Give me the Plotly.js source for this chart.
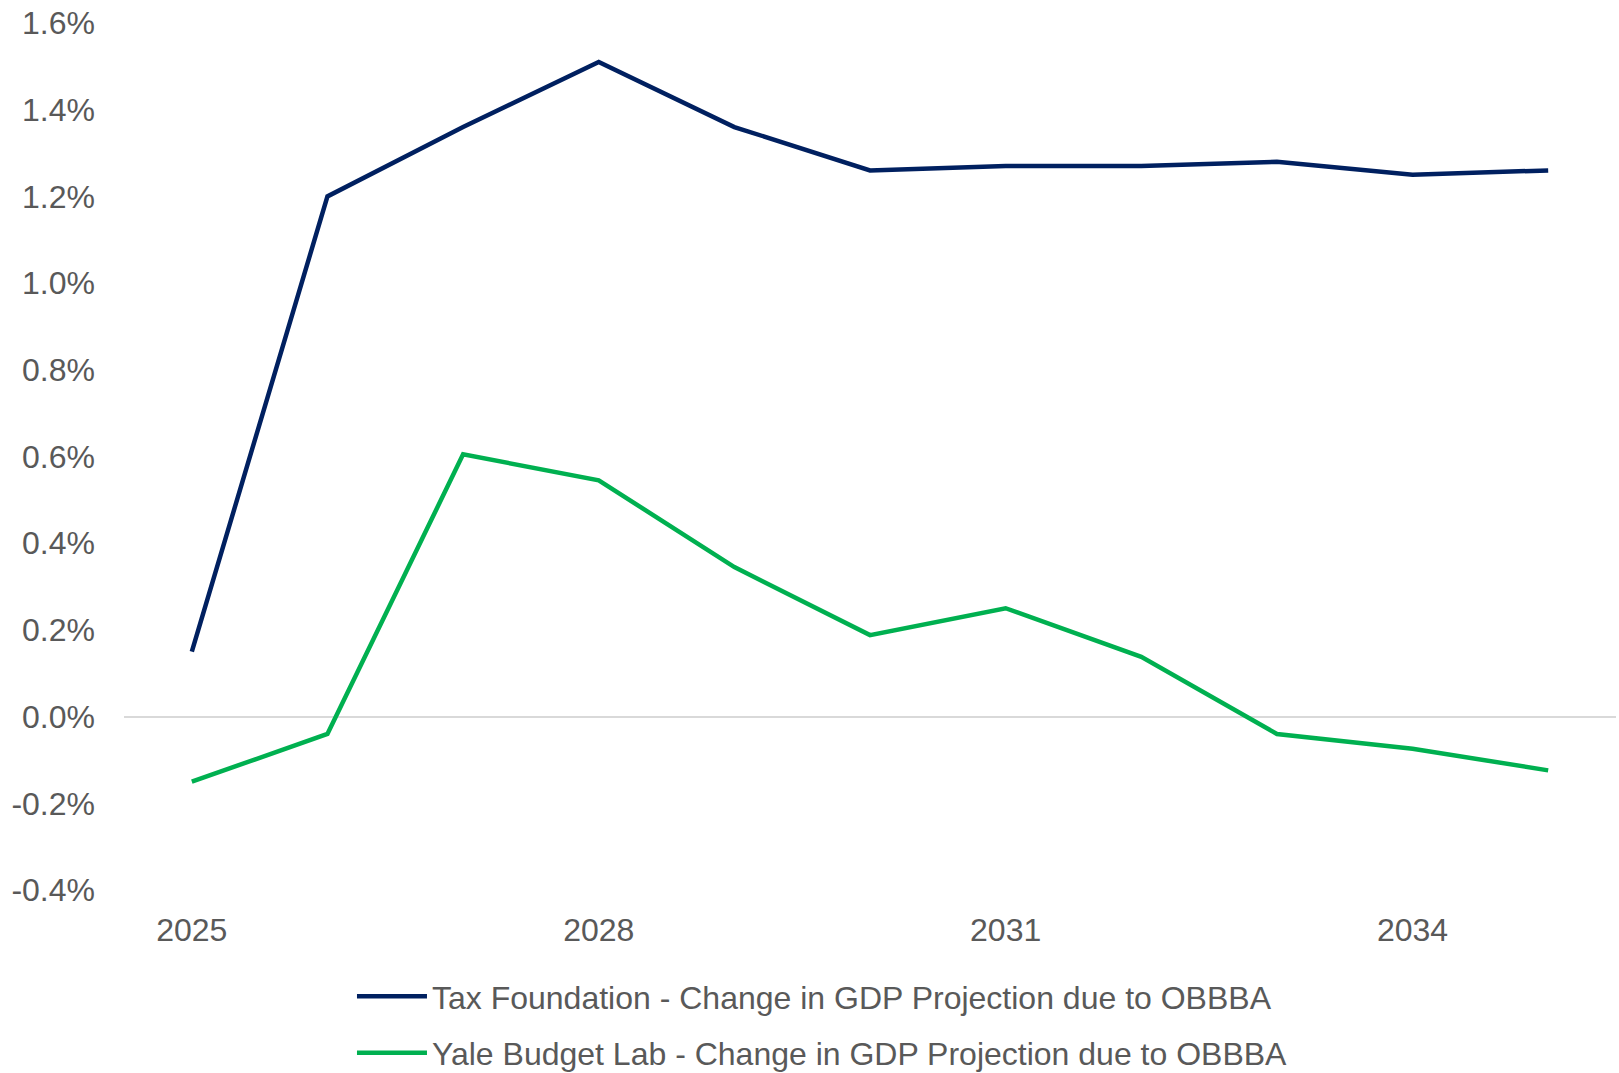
<!DOCTYPE html>
<html>
<head>
<meta charset="utf-8">
<script src="https://cdn.plot.ly/plotly-3.0.1.min.js"></script>
<style>html,body{margin:0;padding:0;background:#fff;}#chart{width:1619px;height:1073px;}</style>
</head>
<body>
<div id="chart"></div>
<script>
const years = [2025, 2026, 2027, 2028, 2029, 2030, 2031, 2032, 2033, 2034, 2035];
const taxFoundation = [0.15, 1.20, 1.36, 1.51, 1.36, 1.26, 1.27, 1.27, 1.28, 1.25, 1.26];
const yaleBudgetLab = [-0.15, -0.04, 0.605, 0.545, 0.345, 0.188, 0.25, 0.138, -0.04, -0.074, -0.124];
const seriesNames = [
  "Tax Foundation - Change in GDP Projection due to OBBBA",
  "Yale Budget Lab - Change in GDP Projection due to OBBBA"
];
const xTickVals = [2025, 2028, 2031, 2034];
const yTickVals = [-0.4, -0.2, 0, 0.2, 0.4, 0.6, 0.8, 1.0, 1.2, 1.4, 1.6];
const yTickText = yTickVals.map(v => v.toFixed(1) + "%");

const font = {family: "Liberation Sans, Arial, sans-serif", size: 32, color: "#595959"};

const traces = [
  {x: years, y: taxFoundation, name: seriesNames[0], type: "scatter", mode: "lines",
   legendgroup: "a", line: {color: "#002060", width: 4.5}},
  {x: years, y: yaleBudgetLab, name: seriesNames[1], type: "scatter", mode: "lines",
   legendgroup: "b", line: {color: "#00B050", width: 4.5}}
];

const layout = {
  width: 1619, height: 1073,
  margin: {l: 124, r: 3, t: 23, b: 183, autoexpand: false},
  paper_bgcolor: "#ffffff", plot_bgcolor: "#ffffff",
  font: font,
  showlegend: true,
  legend: {orientation: "v", x: 0.1528, xanchor: "left", y: -0.091, yanchor: "top",
           font: font, tracegroupgap: 12, itemwidth: 70, bgcolor: "rgba(0,0,0,0)"},
  xaxis: {range: [2024.5, 2035.5], tickmode: "array", tickvals: xTickVals,
          ticktext: xTickVals.map(String), showgrid: false, zeroline: false,
          showline: false, ticks: "", ticklabelstandoff: 18, tickfont: font, fixedrange: true},
  yaxis: {range: [-0.4, 1.6], tickmode: "array", tickvals: yTickVals, ticktext: yTickText,
          showgrid: false, zeroline: true, zerolinecolor: "#D9D9D9", zerolinewidth: 2,
          showline: false, ticks: "", ticklabelstandoff: 28, tickfont: font, fixedrange: true}
};

Plotly.newPlot("chart", traces, layout, {displayModeBar: false, staticPlot: true});
</script>
</body>
</html>
